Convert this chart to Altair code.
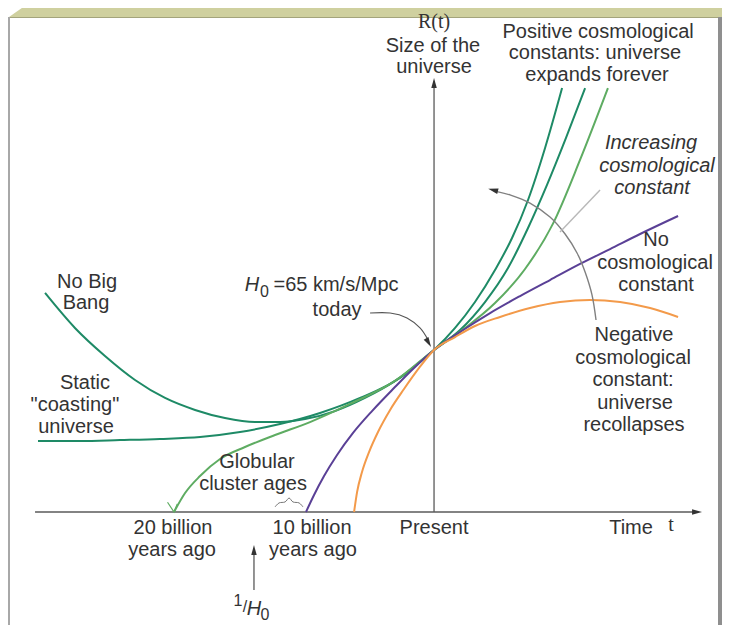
import altair as alt
import pandas as pd

# ---------------- data ----------------
# time t: billions of years from the present (negative = past); R: size of the universe (R=1 today)
no_big_bang_t = [-29.92, -27.62, -25.31, -23.0, -20.69, -18.38, -16.08, -13.77, -11.85, -9.92, -7.62,
                 -5.31, -3.0, -1.08, 0.0, 1.62, 3.15, 4.69, 6.0, 7.23, 8.54, 9.85]
no_big_bang_R = [1.352, 1.136, 0.963, 0.815, 0.704, 0.630, 0.580, 0.556, 0.556, 0.574, 0.623,
                 0.704, 0.809, 0.926, 1.0, 1.136, 1.296, 1.494, 1.691, 1.926, 2.247, 2.617]
coasting_t = [-30.46, -27.23, -24.15, -21.08, -18.0, -14.92, -11.85, -8.77, -5.69, -2.62, 0.0,
              2.0, 3.92, 5.69, 7.23, 8.69, 10.15, 11.62]
coasting_R = [0.438, 0.438, 0.444, 0.451, 0.463, 0.494, 0.543, 0.611, 0.704, 0.827, 1.0,
              1.123, 1.296, 1.506, 1.753, 2.019, 2.309, 2.617]
globular_t = [-20.0, -19.15, -18.0, -16.46, -14.54, -12.23, -9.54, -6.46, -3.0, 0.0,
              2.38, 4.69, 7.0, 9.15, 11.23, 13.38]
globular_R = [0.0, 0.117, 0.222, 0.327, 0.401, 0.475, 0.555, 0.667, 0.809, 1.0,
              1.135, 1.290, 1.500, 1.780, 2.173, 2.617]
no_lambda_t = [-9.85, -9.23, -8.46, -7.46, -6.23, -4.77, -3.08, -1.54, 0.0, 2.0, 4.31, 6.62, 8.92,
               11.23, 13.54, 15.85, 18.77]
no_lambda_R = [0.0, 0.105, 0.222, 0.352, 0.488, 0.623, 0.765, 0.889, 1.0, 1.111, 1.228, 1.333, 1.432,
               1.531, 1.623, 1.716, 1.827]
negative_t = [-6.15, -5.92, -5.54, -5.0, -4.31, -3.38, -2.31, -1.15, 0.0, 1.62, 3.15, 5.08, 7.38, 9.69,
              12.0, 14.31, 16.62, 18.77]
negative_R = [0.0, 0.123, 0.247, 0.370, 0.494, 0.630, 0.759, 0.889, 1.0, 1.080, 1.148, 1.204, 1.259, 1.296,
              1.309, 1.296, 1.259, 1.204]

# annotation strokes
arc_t = [12.46, 12.15, 11.62, 11.0, 10.08, 8.92, 7.38, 5.85, 4.69]
arc_R = [1.185, 1.340, 1.481, 1.599, 1.716, 1.821, 1.907, 1.957, 1.981]
pointer_t = [12.77, 9.69]
pointer_R = [1.988, 1.728]
h0_lead_t = [-4.92, -3.38, -2.08, -1.08, -0.46]
h0_lead_R = [1.228, 1.228, 1.198, 1.136, 1.062]
brace_t = [-12.23, -11.92, -11.46, -11.15, -10.85, -10.38, -10.08]
brace_R = [0.031, 0.056, 0.062, 0.086, 0.062, 0.056, 0.031]
tick_t = [-20.5, -20.0, -19.75]
tick_R = [0.06, 0.0, 0.05]
x_axis_t = [-30.69, 20.3]
x_axis_R = [0.0, 0.0]
y_axis_t = [0.0, 0.0]
y_axis_R = [0.0, 2.63]
inv_h0_t = [-13.85, -13.85]
inv_h0_R = [-0.481, -0.24]

# arrow heads (position, direction in degrees clockwise from up)
arrow_t = [20.23, 0.0, -13.85, 4.54, -0.42]
arrow_R = [0.0, 2.648, -0.235, 1.988, 1.045]
arrow_dir = [90, 0, 0, 285, 150]

# labels
sans_text = ["Size of the", "universe", "Positive cosmological", "constants: universe", "expands forever",
             "No", "cosmological", "constant",
             "Negative", "cosmological", "constant:", "universe", "recollapses",
             "No Big", "Bang", "Static", "\"coasting\"", "universe",
             "today", "Globular", "cluster ages",
             "20 billion", "years ago", "10 billion", "years ago", "Present", "Time"]
sans_t = [-0.08, 0.0, 12.62, 12.38, 12.54,
          17.08, 17.0, 17.08,
          15.38, 15.31, 15.31, 15.46, 15.38,
          -26.69, -26.77, -26.85, -27.62, -27.54,
          -7.46, -13.62, -13.92,
          -20.08, -20.15, -9.38, -9.31, 0.0, 15.15]
sans_R = [2.877, 2.747, 2.963, 2.833, 2.698,
          1.679, 1.537, 1.401,
          1.093, 0.951, 0.815, 0.673, 0.537,
          1.420, 1.290, 0.796, 0.660, 0.525,
          1.247, 0.309, 0.173,
          -0.099, -0.235, -0.099, -0.235, -0.099, -0.099]
italic_text = ["Increasing", "cosmological", "constant"]
italic_t = [16.69, 17.15, 16.77]
italic_R = [2.278, 2.136, 2.0]
serif_text = ["R(t)", "t"]
serif_t = [0.0, 18.23]
serif_R = [3.025, -0.080]
h_text = ["H", "H"]
h_t = [-14.0, -13.85]
h_R = [1.401, -0.599]
sub_text = ["0", "0", "1", "/"]
sub_t = [-13.05, -13.0, -15.08, -14.54]
sub_R = [1.355, -0.636, -0.549, -0.586]
h0_value_text = ["=65 km/s/Mpc"]
h0_value_t = [-12.35]
h0_value_R = [1.401]

# ---------------- build tables ----------------
curve_names = ["No Big Bang", "Static coasting", "Globular", "No cosmological constant", "Negative"]
curve_colors = ["#1e8a66", "#1e8a66", "#5eac62", "#5a4096", "#f39a4a"]
rows = []
for name, ts, rs in zip(curve_names,
                        [no_big_bang_t, coasting_t, globular_t, no_lambda_t, negative_t],
                        [no_big_bang_R, coasting_R, globular_R, no_lambda_R, negative_R]):
    for i, (a, b) in enumerate(zip(ts, rs)):
        rows.append({"t": a, "R": b, "curve": name, "ord": i})
curves = pd.DataFrame(rows)


def seg(ts, rs, name):
    return pd.DataFrame({"t": ts, "R": rs, "part": name, "ord": list(range(len(ts)))})


xs = alt.Scale(domain=[-32.77, 22.15], nice=False, zero=False)
ys = alt.Scale(domain=[-0.6975, 3.111], nice=False, zero=False)
X = alt.X("t:Q", scale=xs, axis=None)
Y = alt.Y("R:Q", scale=ys, axis=None)

dummy = pd.DataFrame({"k": [0]})

# frame decoration
top_bar = alt.Chart(dummy).mark_rect(color="#cfd09f").encode(
    x=alt.value(14), x2=alt.value(714), y=alt.value(0), y2=alt.value(9))
corner = alt.Chart(dummy).mark_point(
    shape="M -1 1 L 1 -0.4 L 1 1 Z", filled=True, opacity=1, color="#cfd09f", size=169
).encode(x=alt.value(7.5), y=alt.value(2.5))
bar_edge = alt.Chart(dummy).mark_rule(color="#a3a47c", strokeWidth=1).encode(
    x=alt.value(1), x2=alt.value(714), y=alt.value(9.5))
left_border = alt.Chart(dummy).mark_rule(color="#a8a8a8", strokeWidth=2).encode(
    x=alt.value(1), y=alt.value(9), y2=alt.value(617))
right_border = alt.Chart(dummy).mark_rule(color="#8f8f8f", strokeWidth=4).encode(
    x=alt.value(712), y=alt.value(9), y2=alt.value(617))

axes = alt.Chart(pd.concat([seg(x_axis_t, x_axis_R, "x"), seg(y_axis_t, y_axis_R, "y"),
                            seg(inv_h0_t, inv_h0_R, "h")])).mark_line(
    color="#5a5a5a", strokeWidth=1.3).encode(x=X, y=Y, detail="part:N", order="ord:Q")

lines = alt.Chart(curves).mark_line(interpolate="monotone", strokeWidth=2).encode(
    x=X, y=Y,
    color=alt.Color("curve:N", scale=alt.Scale(domain=curve_names, range=curve_colors), legend=None),
    detail="curve:N", order="ord:Q")

arc = alt.Chart(seg(arc_t, arc_R, "arc")).mark_line(
    interpolate="cardinal", color="#808080", strokeWidth=1.4).encode(x=X, y=Y, order="ord:Q")
pointer = alt.Chart(seg(pointer_t, pointer_R, "p")).mark_line(
    color="#b8b8b8", strokeWidth=1.4).encode(x=X, y=Y, order="ord:Q")
h0_lead = alt.Chart(seg(h0_lead_t, h0_lead_R, "h0")).mark_line(
    interpolate="cardinal", color="#555555", strokeWidth=1.1).encode(x=X, y=Y, order="ord:Q")
brace = alt.Chart(seg(brace_t, brace_R, "b")).mark_line(
    interpolate="cardinal", color="#777777", strokeWidth=1).encode(x=X, y=Y, order="ord:Q")
tick = alt.Chart(seg(tick_t, tick_R, "tk")).mark_line(
    color="#5eac62", strokeWidth=1.2).encode(x=X, y=Y, order="ord:Q")

arrows = alt.Chart(pd.DataFrame({"t": arrow_t, "R": arrow_R, "dir": arrow_dir})).mark_point(
    shape="M 0 -1 L 0.55 1 L -0.55 1 Z", filled=True, opacity=1, color="#333333", size=100
).encode(x=X, y=Y, angle=alt.Angle("dir:Q", scale=None))

FONT = "Liberation Sans"
TXT = "#333333"
sans = alt.Chart(pd.DataFrame({"t": sans_t, "R": sans_R, "txt": sans_text})).mark_text(
    font=FONT, fontSize=20, color=TXT, align="center", baseline="middle").encode(x=X, y=Y, text="txt:N")
italic = alt.Chart(pd.DataFrame({"t": italic_t, "R": italic_R, "txt": italic_text})).mark_text(
    font=FONT, fontSize=20, fontStyle="italic", color=TXT, align="center", baseline="middle"
).encode(x=X, y=Y, text="txt:N")
serif = alt.Chart(pd.DataFrame({"t": serif_t, "R": serif_R, "txt": serif_text})).mark_text(
    font="Liberation Serif", fontSize=20, color=TXT, align="center", baseline="middle"
).encode(x=X, y=Y, text="txt:N")
hs = alt.Chart(pd.DataFrame({"t": h_t, "R": h_R, "txt": h_text})).mark_text(
    font=FONT, fontSize=20, fontStyle="italic", color=TXT, align="center", baseline="middle"
).encode(x=X, y=Y, text="txt:N")
subs = alt.Chart(pd.DataFrame({"t": sub_t, "R": sub_R, "txt": sub_text})).mark_text(
    font=FONT, fontSize=16, color=TXT, align="center", baseline="middle").encode(x=X, y=Y, text="txt:N")
h0_val = alt.Chart(pd.DataFrame({"t": h0_value_t, "R": h0_value_R, "txt": h0_value_text})).mark_text(
    font=FONT, fontSize=20, color=TXT, align="left", baseline="middle").encode(x=X, y=Y, text="txt:N")

chart = alt.layer(
    top_bar, corner, bar_edge, left_border, right_border,
    axes, lines, arc, pointer, h0_lead, brace, tick, arrows,
    sans, italic, serif, hs, subs, h0_val
).properties(
    width=714, height=617,
    autosize=alt.AutoSizeParams(type="none"),
    padding=0,
    background="white",
).configure_view(stroke=None)

chart.save("out.html", embed_options={"renderer": "svg", "actions": False})
